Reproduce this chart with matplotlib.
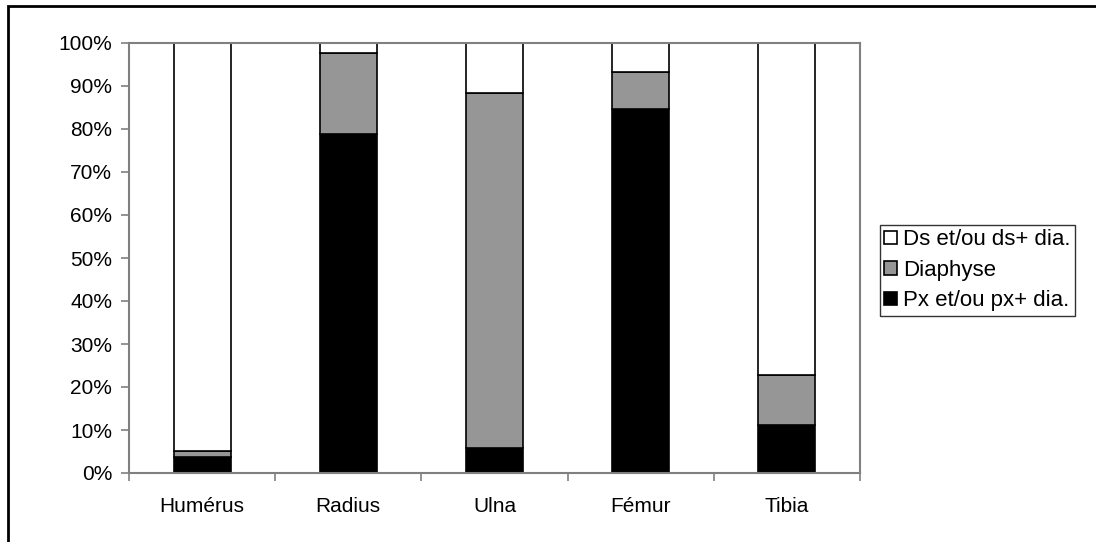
import matplotlib.pyplot as plt
import matplotlib.patches as mpatches
import numpy as np

plt.rcParams['font.family'] = ['Liberation Sans', 'DejaVu Sans']

categories = ["Humérus", "Radius", "Ulna", "Fémur", "Tibia"]
px = [3.7, 78.8, 5.8, 84.6, 11.2]       # Px et/ou px+ dia.
dia = [1.4, 18.9, 82.5, 8.6, 11.6]      # Diaphyse
ds = [94.9, 2.3, 11.7, 6.8, 77.2]       # Ds et/ou ds+ dia.

fig = plt.figure(figsize=(10.96, 5.42), dpi=100)
ax = fig.add_axes([129/1096, 69/542, 731/1096, 430/542])

x = np.arange(len(categories))
w = 0.39
ax.bar(x, px, w, color='black', edgecolor='black', linewidth=1.2, label='Px et/ou px+ dia.')
ax.bar(x, dia, w, bottom=px, color='#969696', edgecolor='black', linewidth=1.2, label='Diaphyse')
ax.bar(x, ds, w, bottom=np.array(px) + np.array(dia), color='white', edgecolor='black',
       linewidth=1.2, label='Ds et/ou ds+ dia.')

ax.set_xlim(-0.5, len(categories) - 0.5)
ax.set_ylim(0, 100)
ax.set_yticks(np.arange(0, 101, 10))
ax.set_yticklabels([f"{v}%" for v in range(0, 101, 10)], fontsize=15)
ax.set_xticks(x)
ax.set_xticklabels(categories, fontsize=15)
ax.set_xticks(np.arange(-0.5, len(categories), 1), minor=True)
ax.tick_params(axis='x', which='major', length=0, pad=17)
ax.tick_params(axis='x', which='minor', length=6, color='#808080', width=1.2)
ax.tick_params(axis='y', length=6, color='#808080', width=1.2, pad=6)

for s in ax.spines.values():
    s.set_color('#808080')
    s.set_linewidth(1.5)

handles, labels = ax.get_legend_handles_labels()
leg = fig.legend(handles[::-1], labels[::-1], loc='upper left',
                 bbox_to_anchor=(880/1096, 1 - 225/542), fontsize=16,
                 frameon=True, fancybox=False, edgecolor='black',
                 handlelength=0.55, handleheight=0.55, handletextpad=0.3,
                 labelspacing=0.42, borderpad=0.2, borderaxespad=0)
leg.get_frame().set_linewidth(1.0)

border = mpatches.Rectangle((8/1096, -0.1), 1.2, 1 - 6/542 + 0.1, transform=fig.transFigure,
                            fill=False, edgecolor='black', linewidth=2, clip_on=False)
fig.patches.append(border)

fig.savefig("out.png", dpi=100)
